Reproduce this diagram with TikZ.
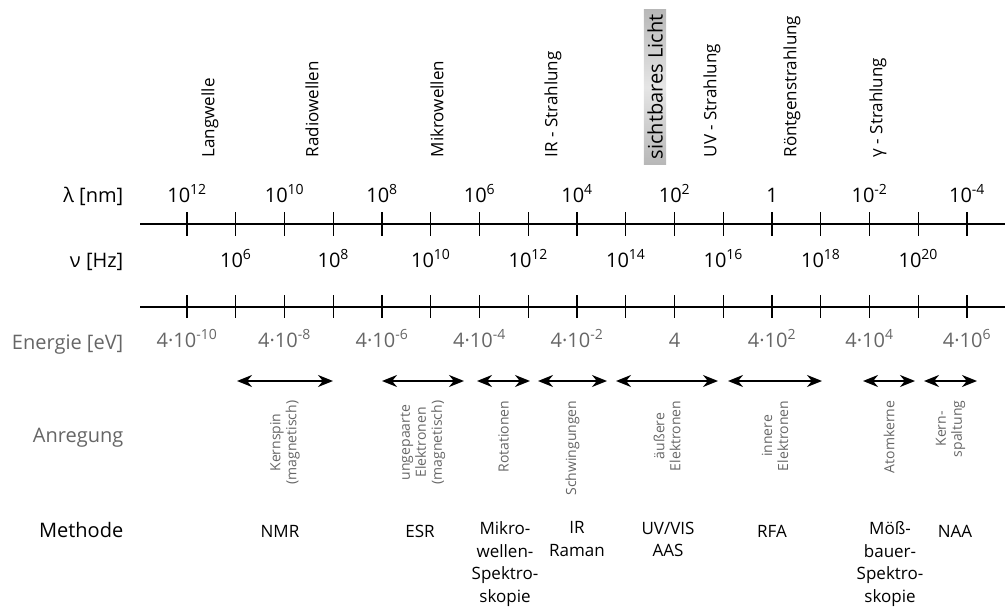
\documentclass[tikz,border=0pt]{standalone}
\usepackage{fontspec}
\setmainfont{Open Sans}
\usetikzlibrary{arrows.meta,positioning,calc}
\begin{document}
\begin{tikzpicture}[x=1pt,y=-1pt,line width=1.4pt,
row label/.style={anchor=base east,inner sep=0pt,font=\fontsize{20}{22}\selectfont},
scale label/.style={anchor=base,inner sep=0pt,font=\fontsize{20}{22}\selectfont},
band label/.style={rotate=90,anchor=west,inner sep=0pt,font=\fontsize{17}{19}\selectfont},
excite label/.style={rotate=90,anchor=east,align=center,inner sep=0pt,text=black!60,font=\fontsize{14}{16}\selectfont},
method label/.style={anchor=north,align=center,inner sep=0pt,font=\fontsize{17}{22.5}\selectfont,execute at begin node=\strut},
range arrow/.style={{Stealth[length=15pt,width=12pt]}-{Stealth[length=15pt,width=12pt]},line width=2pt}]
\useasboundingbox (0,0) rectangle (1005,610);
% row labels
\node[row label] (lam) at (124,202) {λ [nm]};
\node[row label] (nu) at (124,267) {ν [Hz]};
\node[row label,text=black!60] (en) at (124,349) {Energie [eV]};
\node[row label,text=black!60] (anr) at (124,442) {Anregung};
\node[row label] (meth) at (124,537) {Methode};
% axes
\coordinate (ax1w) at (140,224);
\coordinate (ax1e) at (1005,224);
\coordinate (ax2w) at (140,307);
\coordinate (ax2e) at (1005,307);
\draw (ax1w) -- (ax1e);
\draw (ax2w) -- (ax2e);
\foreach \i in {0,...,16}{
\draw (187+48.75*\i,212) -- ++(0,24);
\draw (187+48.75*\i,295) -- ++(0,23);
}
\foreach \t [count=\i from 0] in {10\textsuperscript{12},10\textsuperscript{10},10\textsuperscript{8},10\textsuperscript{6},10\textsuperscript{4},10\textsuperscript{2},1,10\textsuperscript{-2},10\textsuperscript{-4}}
\node[scale label] (wl\i) at (187+97.5*\i,202) {\t};
\foreach \e [count=\i from 0] in {6,8,...,20}
\node[scale label] (fq\i) at (235.75+97.5*\i,267) {10\textsuperscript{\e}};
\foreach \t [count=\i from 0] in {4·10\textsuperscript{-10},4·10\textsuperscript{-8},4·10\textsuperscript{-6},4·10\textsuperscript{-4},4·10\textsuperscript{-2},4,4·10\textsuperscript{2},4·10\textsuperscript{4},4·10\textsuperscript{6}}
\node[scale label,text=black!60] (ev\i) at (187+97.5*\i,347) {\t};
% spectral bands
\foreach \x/\t [count=\i] in {210/Langwelle,312/Radiowellen,437/Mikrowellen,553/IR - Strahlung,712/UV - Strahlung,792/Röntgenstrahlung,878/γ - Strahlung}
\node[band label] (band\i) at (\x,158) {\t};
\node[band label,font=\fontsize{20}{22}\selectfont,inner xsep=5pt,inner ysep=3.5pt,top color=black!28,bottom color=black!28,middle color=black!10] (vis) at (655,165) {sichtbares Licht};
% excitation ranges
\foreach \a/\b [count=\i] in {237/333,382/464,477/530,538/607,616/718,728/822,863/915,924/977}{
\coordinate (r\i w) at (\a,381);
\coordinate (r\i e) at (\b,381);
\draw[range arrow] (r\i w) -- (r\i e);
}
\foreach \t [count=\i] in {{Kernspin\\(magnetisch)},{ungepaarte\\Elektronen\\(magnetisch)},Rotationen,Schwingungen,{äußere\\Elektronen},{innere\\Elektronen},Atomkerne,{Kern-\\spaltung}}
\node[excite label] (ex\i) at ($(r\i w)!0.5!(r\i e)+(0,19)$) {\t};
% methods
\node[method label] (nmr) at (280,521) {NMR};
\node[method label] (esr) at (420,521) {ESR};
\node[method label] (mw) at (505,521) {Mikro-\\wellen-\\Spektro-\\skopie};
\node[method label] (ir) at (577,521) {IR\\Raman};
\node[method label] (uv) at (668,521) {UV/VIS\\AAS};
\node[method label] (rfa) at (772,521) {RFA};
\node[method label] (mb) at (890,521) {Möß-\\bauer-\\Spektro-\\skopie};
\node[method label] (naa) at (955,521) {NAA};
\end{tikzpicture}
\end{document}
